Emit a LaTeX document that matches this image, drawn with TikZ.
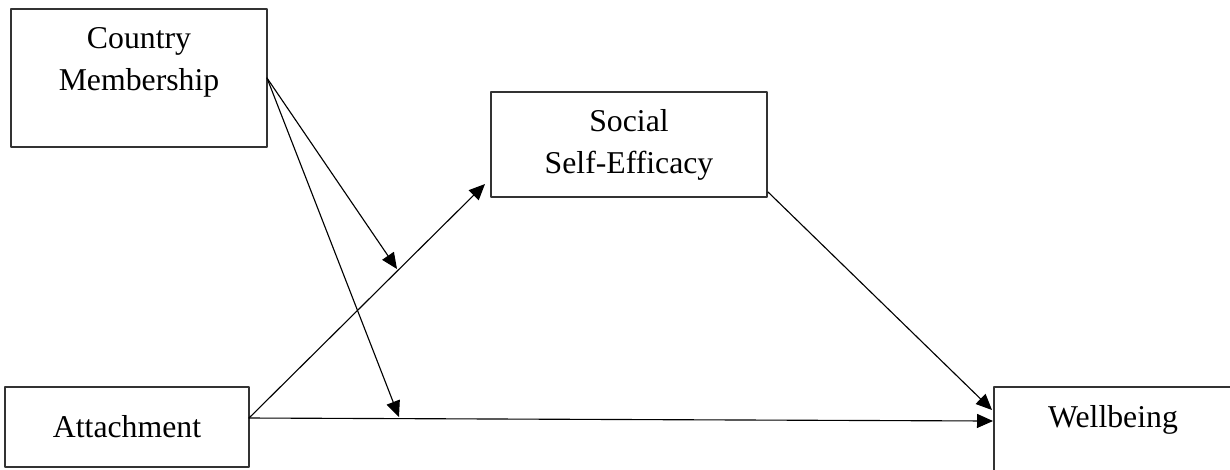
\documentclass[tikz,border=0pt]{standalone}
\usepackage{fontspec}
\setmainfont{Liberation Serif}
\usetikzlibrary{arrows.meta,calc}

\begin{document}
\begin{tikzpicture}[x=0.4pt,y=-0.4pt,line cap=round,line join=round,
  box/.style={draw=black!80,line width=0.6pt,inner sep=0pt,outer sep=0pt,align=center,
    font=\fontsize{12.7}{16.8}\selectfont},
  lbl/.style={anchor=north,align=center,inner sep=0pt,yshift=-7.2pt,
    font=\fontsize{12.7}{16.8}\selectfont},
  arr/.style={line width=0.45pt,-{Triangle[length=6.4pt,width=5.6pt]}}]

\useasboundingbox (0,0) rectangle (1230,469);
\clip (0,0) rectangle (1230,469);

% 方框
\node[box,minimum width=102.4pt,minimum height=55.2pt,
  label={[lbl]north:Country\\Membership}] (country) at (139,78) {};
\node[box,minimum width=110.4pt,minimum height=42pt] (social) at (629,144.5) {Social\\Self-Efficacy};
\node[box,minimum width=97.6pt,minimum height=32pt] (att) at (127,427) {Attachment};
\node[box,minimum width=95.2pt,minimum height=47.2pt,
  label={[lbl]north:Wellbeing}] (well) at (1113,446) {};

% 端点
\coordinate (aout) at ($(att.east)+(0,-9)$);
\coordinate (sin) at ($(social.south west)+(-6,-13)$);
\coordinate (sout) at ($(social.south east)+(1,-5)$);
\coordinate (win1) at ($(well.north west)+(-2,23)$);
\coordinate (win2) at ($(well.north west)+(-1,34)$);
\coordinate (m1) at (397,269);
\coordinate (m2) at (399,417);

% 路径
\draw[arr] (aout) -- (sin);
\draw[arr] (aout) -- (win2);
\draw[arr] (sout) -- (win1);

% 调节
\draw[arr] (country.east) -- (m1);
\draw[arr] (country.east) -- (m2);

\end{tikzpicture}
\end{document}
